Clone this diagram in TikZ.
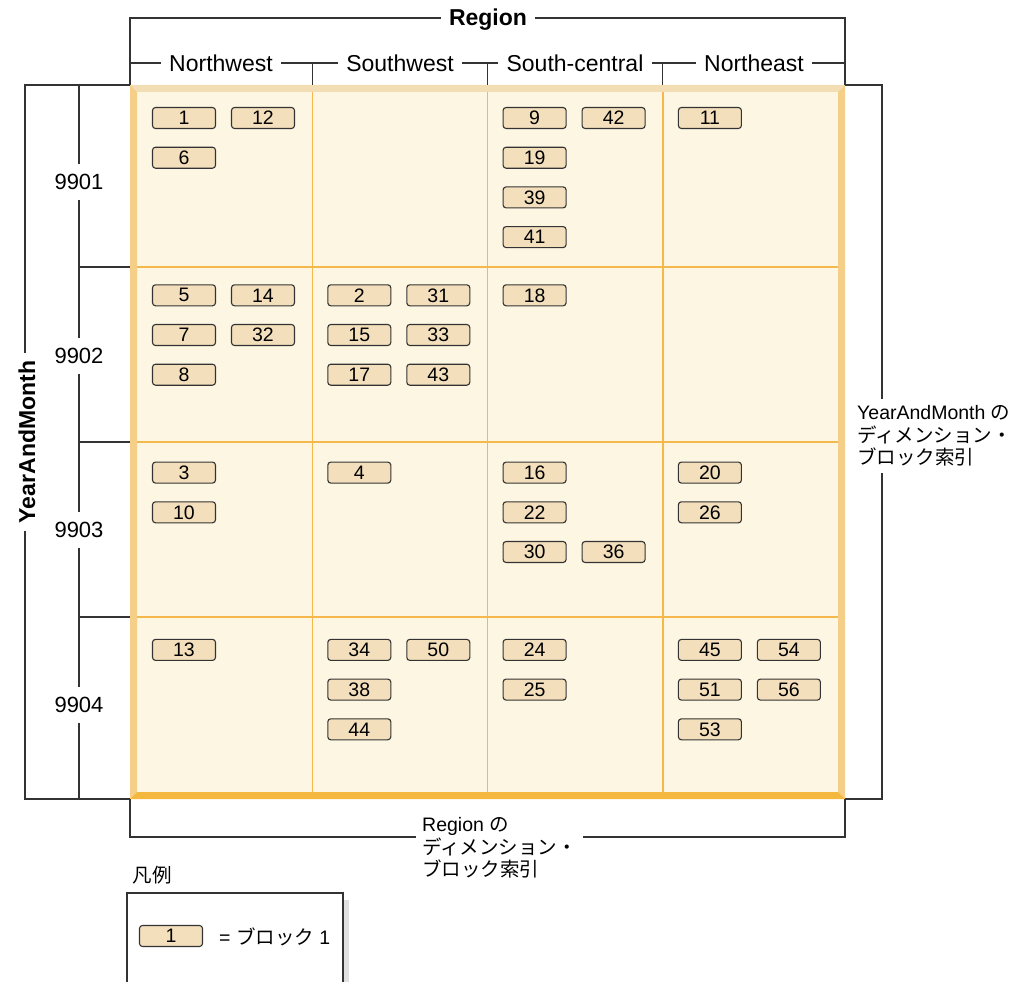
\documentclass[tikz,border=0pt]{standalone}
\usepackage{fontspec}
\usepackage{xcolor}
\setmainfont{Liberation Sans}
\newfontfamily\jp{Noto Sans CJK JP}
\definecolor{linegray}{HTML}{333333}
\definecolor{cellfill}{HTML}{FDF6E3}
\definecolor{blockfill}{HTML}{F3DFBC}
\definecolor{bevtop}{HTML}{F2DDB5}
\definecolor{bevside}{HTML}{F5CF88}
\definecolor{bevbot}{HTML}{F4B83F}
\definecolor{divline}{HTML}{F5B84A}

\begin{document}
\begin{tikzpicture}[x=1pt,y=-1pt]%
  \tikzstyle{blk}=[draw=linegray,fill=blockfill,rounded corners=3pt,line width=1.1pt,minimum width=63pt,minimum height=21pt,inner sep=0pt,font=\fontsize{19.5}{19.5}\selectfont]
  \tikzstyle{brk}=[draw=linegray,line width=1.2pt]
  \tikzstyle{head}=[font=\bfseries\fontsize{23}{26}\selectfont,inner sep=8pt]
  \tikzstyle{lbl}=[font=\fontsize{23}{26}\selectfont,inner sep=8pt]
  \tikzstyle{rowlbl}=[font=\fontsize{22}{24}\selectfont,inner sep=10pt]
  \tikzstyle{note}=[font=\fontsize{19.5}{22.5}\selectfont,align=left,inner sep=6pt]
  \useasboundingbox (0,0) rectangle (1026,982);
  % grid with bevelled frame
  \fill[cellfill] (137,92) rectangle (838,792);
  \fill[bevtop] (130,85) -- (845,85) -- (838,92) -- (137,92) -- cycle;
  \fill[bevside] (130,85) -- (137,92) -- (137,792) -- (130,799) -- cycle;
  \fill[bevside] (845,85) -- (845,799) -- (838,792) -- (838,92) -- cycle;
  \fill[bevbot] (130,799) -- (845,799) -- (838,792) -- (137,792) -- cycle;
  \foreach \k in {1,2,3}{
    \draw[divline,line width=1.5pt] ({137+175.25*\k},92) -- ({137+175.25*\k},792);
    \draw[divline,line width=1.5pt] (137,{92+175*\k}) -- (838,{92+175*\k});
  }
  \coordinate (gtl) at (130,85);
  \coordinate (gtr) at (845,85);
  \coordinate (gbl) at (130,799);
  \coordinate (gbr) at (845,799);
  % blocks: column/row/slot x/slot y/number
  \foreach \c/\r/\i/\j/\n in {0/0/0/0/1,0/0/1/0/12,0/0/0/1/6,
      2/0/0/0/9,2/0/1/0/42,2/0/0/1/19,2/0/0/2/39,2/0/0/3/41,3/0/0/0/11,
      0/1/0/0/5,0/1/1/0/14,0/1/0/1/7,0/1/1/1/32,0/1/0/2/8,
      1/1/0/0/2,1/1/1/0/31,1/1/0/1/15,1/1/1/1/33,1/1/0/2/17,1/1/1/2/43,2/1/0/0/18,
      0/2/0/0/3,0/2/0/1/10,1/2/0/0/4,2/2/0/0/16,2/2/0/1/22,2/2/0/2/30,2/2/1/2/36,
      3/2/0/0/20,3/2/0/1/26,
      0/3/0/0/13,1/3/0/0/34,1/3/1/0/50,1/3/0/1/38,1/3/0/2/44,2/3/0/0/24,2/3/0/1/25,
      3/3/0/0/45,3/3/1/0/54,3/3/0/1/51,3/3/1/1/56,3/3/0/2/53}
    \node(b\n)[blk] at ({184+175.3*\c+79*\i},{118+177.3*\r+39.7*\j}){\n};
  % Region bracket
  \node(region)[head] at (488,20){Region};
  \draw[brk] (gtl) -- (130,18) -- (region.west |- 0,18);
  \draw[brk] (gtr) -- (845,18) -- (region.east |- 0,18);
  \node(nw)[lbl] at (221,63){Northwest};
  \node(sw)[lbl] at (400,63){Southwest};
  \node(sc)[lbl] at (575,63){South-central};
  \node(ne)[lbl] at (754,63){Northeast};
  \coordinate (c0) at (130,63);
  \coordinate (c1) at (312.25,63);
  \coordinate (c2) at (487.5,63);
  \coordinate (c3) at (662.75,63);
  \coordinate (c4) at (845,63);
  \draw[brk] (c0) -- (nw.west);
  \draw[brk] (nw.east) -- (sw.west) (c1) -- (c1 |- gtl);
  \draw[brk] (sw.east) -- (sc.west) (c2) -- (c2 |- gtl);
  \draw[brk] (sc.east) -- (ne.west) (c3) -- (c3 |- gtl);
  \draw[brk] (ne.east) -- (c4);
  % YearAndMonth bracket
  \node(ym)[head,rotate=90] at (27,442){YearAndMonth};
  \coordinate (yt) at (25,85);
  \coordinate (yb) at (25,799);
  \draw[brk] (gtl) -- (yt) -- (yt |- ym.east);
  \draw[brk] (yb |- ym.west) -- (yb) -- (gbl);
  \node(m1)[rowlbl] at (79,182){9901};
  \node(m2)[rowlbl] at (79,356){9902};
  \node(m3)[rowlbl] at (79,530){9903};
  \node(m4)[rowlbl] at (79,705){9904};
  \coordinate (mt) at (79,85);
  \coordinate (mb) at (79,799);
  \draw[brk] (mt) -- (m1.north) (m1.south) -- (m2.north) (m2.south) -- (m3.north)
    (m3.south) -- (m4.north) (m4.south) -- (mb);
  \foreach \k in {1,2,3}
    \draw[brk] (79,{92+175*\k}) -- (130,{92+175*\k});
  % dimension block indexes
  \node(ylab)[note,anchor=west] at (851,436){YearAndMonth {\jp の}\\{\jp ディメンション・}\\{\jp ブロック索引}};
  \coordinate (rt) at (882,85);
  \coordinate (rb) at (882,799);
  \draw[brk] (gtr) -- (rt) -- (rt |- ylab.north);
  \draw[brk] (gbr) -- (rb) -- (rb |- ylab.south);
  \node(rlab)[note,anchor=west] at (416,848){Region {\jp の}\\{\jp ディメンション・}\\{\jp ブロック索引}};
  \coordinate (bl) at (130,837);
  \coordinate (br) at (845,837);
  \draw[brk] (gbl) -- (bl) -- (bl -| rlab.west);
  \draw[brk] (gbr) -- (br) -- (br -| rlab.east);
  % legend
  \node(legend)[note] at (152,875){\jp 凡例};
  \fill[black!12] (343,900) rectangle (349,982);
  \draw[brk] (127,982) -- (127,893) -- (343,893) -- (343,982);
  \node(leg)[blk] at (171,936){1};
  \node(legt)[note,anchor=west] at (213,937){= {\jp ブロック} 1};
\end{tikzpicture}
\end{document}
